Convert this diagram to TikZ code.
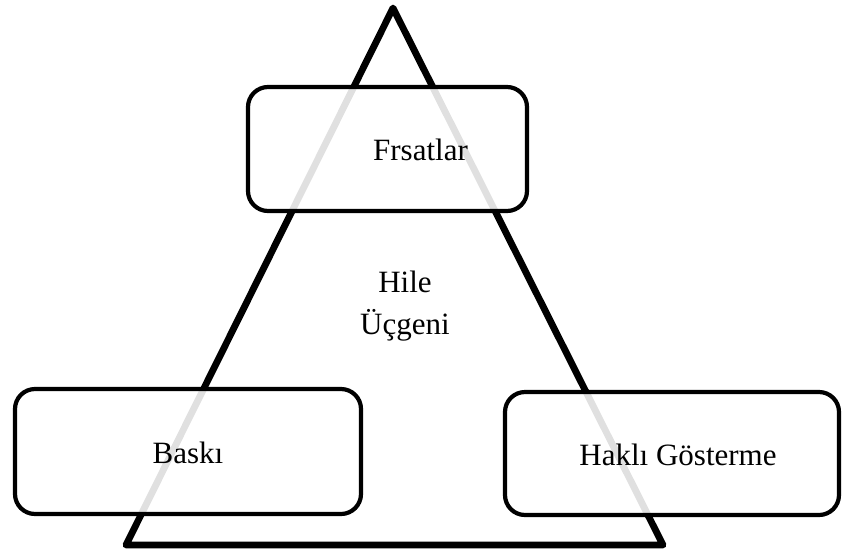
\documentclass[tikz,border=0pt]{standalone}
\usepackage{fontspec}
\setmainfont{Liberation Serif}
\begin{document}
\begin{tikzpicture}[x=1pt,y=-1pt,
  labeltext/.style={font=\fontsize{31}{42}\selectfont, inner sep=0pt, align=center},
  roundbox/.style={draw=black, line width=4.2pt, rounded corners=20pt, fill=white, fill opacity=0.88, text opacity=1, inner sep=0pt}]
\useasboundingbox (0,0) rectangle (845,555);
% triangle
\coordinate (apex) at (393,8);
\coordinate (bl) at (126,545);
\coordinate (br) at (663,545);
\draw[line width=6.8pt, line join=round] (apex) -- (br) -- (bl) -- cycle;
% boxes
\node[roundbox, minimum width=279pt, minimum height=124pt] (frb) at (387.5,149) {};
\node[roundbox, minimum width=346pt, minimum height=125pt] (bab) at (188,451.5) {};
\node[roundbox, minimum width=334pt, minimum height=123pt] (hab) at (672,453.5) {};
% texts
\node[labeltext] (fr) at (420.5,150) {Frsatlar};
\node[labeltext] (ba) at (188,453) {Baskı};
\node[labeltext] (ha) at (678,455) {Haklı Gösterme};
\node[labeltext] (hu) at (405,306) {Hile\\Üçgeni};
\end{tikzpicture}
\end{document}
